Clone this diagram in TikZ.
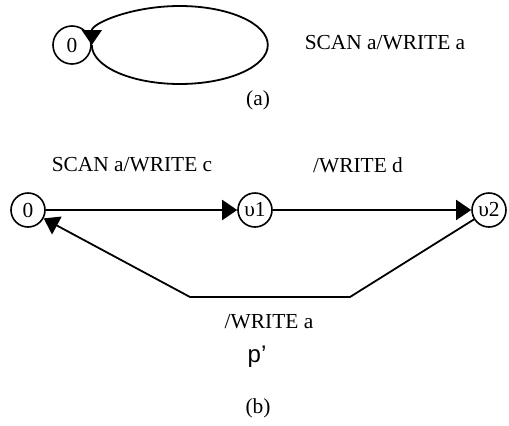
\documentclass[tikz,border=0pt]{standalone}
\usepackage{fontspec}
\setmainfont{Liberation Serif}
\setsansfont{Liberation Sans}
\usetikzlibrary{arrows.meta, positioning}

\tikzset{
  state/.style={draw, circle, line width=0.8pt, inner sep=0pt, minimum size=17pt, font=\fontsize{10.7}{12}\selectfont},
  lbl/.style={font=\fontsize{10.7}{12}\selectfont},
  tipline/.style={line width=0.9pt, -{Triangle[length=7.5pt, width=10pt]}}
}

\begin{document}
\begin{tikzpicture}[x=0.5pt, y=0.5pt]
  \useasboundingbox (0,0) rectangle (509,425);

  % (a) single state with self loop
  \node[state, minimum size=19pt] (a0) at (72,380) {0};
  \draw[tipline] (a0.east) arc[start angle=-180, end angle=180, x radius=88, y radius=39];
  \node[lbl] (la) at (385,382) {SCAN a/WRITE a};
  \node[lbl] (capa) at (258,325) {(a)};

  % (b) three states in a cycle
  \node[state] (b0) at (28,215) {0};
  \node[state] (v1) at (255,215) {υ1};
  \node[state] (v2) at (489,215) {υ2};
  \coordinate (br) at (350,128);
  \coordinate (bl) at (190,128);

  \draw[tipline] (b0) -- (v1);
  \draw[tipline] (v1) -- (v2);
  \draw[tipline] (v2) -- (br) -- (bl) -- (b0);

  \node[lbl] (l01) at (132,260) {SCAN a/WRITE c};
  \node[lbl] (l12) at (358,260) {/WRITE d};
  \node[lbl] (l20) at (269,103) {/WRITE a};
  \node[font=\sffamily\fontsize{12}{14}\selectfont] (pname) at (257,68) {p'};
  \node[lbl] (capb) at (258,17) {(b)};
\end{tikzpicture}
\end{document}
